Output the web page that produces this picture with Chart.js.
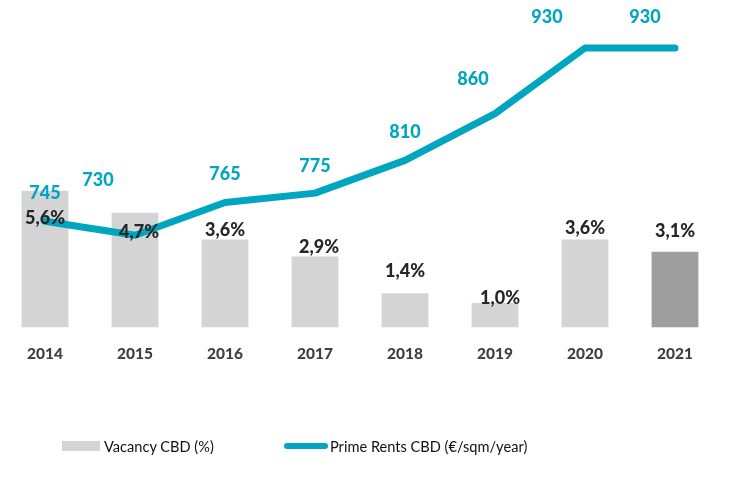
<!DOCTYPE html>
<html>
<head>
<meta charset="utf-8">
<script src="https://cdn.jsdelivr.net/npm/chart.js@4"></script>
<style>
  html, body { margin: 0; padding: 0; background: #ffffff; }
  #wrap { position: relative; width: 749px; height: 479px; }
  #c { position: absolute; left: 0; top: 0; }
  .leg { position: absolute; top: 436px; height: 20px; display: flex; align-items: center;
         font-family: Lato, "Open Sans", sans-serif; font-size: 14.6px; color: #111111; white-space: nowrap; }
  .leg .sw { display: inline-block; margin-right: 4px; }
</style>
</head>
<body>
<div id="wrap">
  <canvas id="c" width="749" height="479"></canvas>
  <div class="leg" id="leg1" style="left:62px;"><span class="sw" id="sw1" style="width:38px;height:10px;"></span><span id="lt1"></span></div>
  <div class="leg" id="leg2" style="left:284px;"><span class="sw" id="sw2" style="width:44px;height:6px;border-radius:3px;margin-right:2px;"></span><span id="lt2"></span></div>
</div>
<script>
// ---- data ----
const years = ["2014", "2015", "2016", "2017", "2018", "2019", "2020", "2021"];
const vacancy = [5.6, 4.7, 3.6, 2.9, 1.4, 1.0, 3.6, 3.1];
const primeRents = [745, 730, 765, 775, 810, 860, 930, 930];
const vacancyLabel = "Vacancy CBD (%)";
const rentsLabel = "Prime Rents CBD (€/sqm/year)";

// ---- styles ----
const TEAL = "#00a5bf";
const BAR_LIGHT = "#d4d4d4";
const BAR_DARK = "#9e9e9e";
const barColors = years.map((y, i) => i === years.length - 1 ? BAR_DARK : BAR_LIGHT);
// manual label offsets (px) relative to the element position
const rentLabelOffsets = [[0,-28],[-37,-55],[0,-28],[0,-27],[0,-28],[-22,-34],[-38,-31],[-30,-31]];
const vacLabelOffsets = [[0,28],[4,20],[0,-9],[4,-9],[0,-22],[5,-5],[0,-11],[0,-21]];

document.getElementById("sw1").style.background = BAR_LIGHT;
document.getElementById("sw2").style.background = TEAL;
document.getElementById("lt1").textContent = vacancyLabel;
document.getElementById("lt2").textContent = rentsLabel;

const fmtPct = v => v.toFixed(1).replace(".", ",") + "%";

const labelPlugin = {
  id: "manualLabels",
  afterDatasetsDraw(chart) {
    const ctx = chart.ctx;
    ctx.save();
    ctx.textAlign = "center";
    ctx.textBaseline = "middle";
    ctx.font = "900 18px Lato, 'Open Sans', sans-serif";
    const barMeta = chart.getDatasetMeta(1);
    barMeta.data.forEach((el, i) => {
      const o = vacLabelOffsets[i];
      ctx.fillStyle = "#262626";
      ctx.fillText(fmtPct(vacancy[i]), el.x + o[0], el.y + o[1]);
    });
    const lineMeta = chart.getDatasetMeta(0);
    lineMeta.data.forEach((el, i) => {
      const o = rentLabelOffsets[i];
      ctx.fillStyle = TEAL;
      ctx.fillText(String(primeRents[i]), el.x + o[0], el.y + o[1]);
    });
    ctx.restore();
  }
};

new Chart(document.getElementById("c"), {
  data: {
    labels: years,
    datasets: [
      {
        type: "line",
        label: rentsLabel,
        data: primeRents,
        yAxisID: "yR",
        borderColor: TEAL,
        backgroundColor: TEAL,
        borderWidth: 7,
        borderCapStyle: "round",
        borderJoinStyle: "round",
        pointRadius: 0,
        tension: 0,
        order: 0
      },
      {
        type: "bar",
        label: vacancyLabel,
        data: vacancy,
        yAxisID: "yL",
        backgroundColor: barColors,
        barPercentage: 0.52,
        categoryPercentage: 1.0,
        order: 1
      }
    ]
  },
  options: {
    responsive: false,
    animation: false,
    layout: { padding: { left: 0, right: 29, top: 10, bottom: 99 } },
    plugins: { legend: { display: false }, tooltip: { enabled: false } },
    scales: {
      x: {
        grid: { display: false, drawTicks: false },
        border: { display: false },
        ticks: {
          padding: 17,
          color: "#404040",
          font: { family: "Lato, 'Open Sans', sans-serif", size: 15.5, weight: "900" }
        }
      },
      yL: { type: "linear", position: "left", display: false, min: 0, max: 13 },
      yR: { type: "linear", position: "right", display: false, min: 631.6, max: 970.6 }
    }
  },
  plugins: [labelPlugin]
});
</script>
</body>
</html>
